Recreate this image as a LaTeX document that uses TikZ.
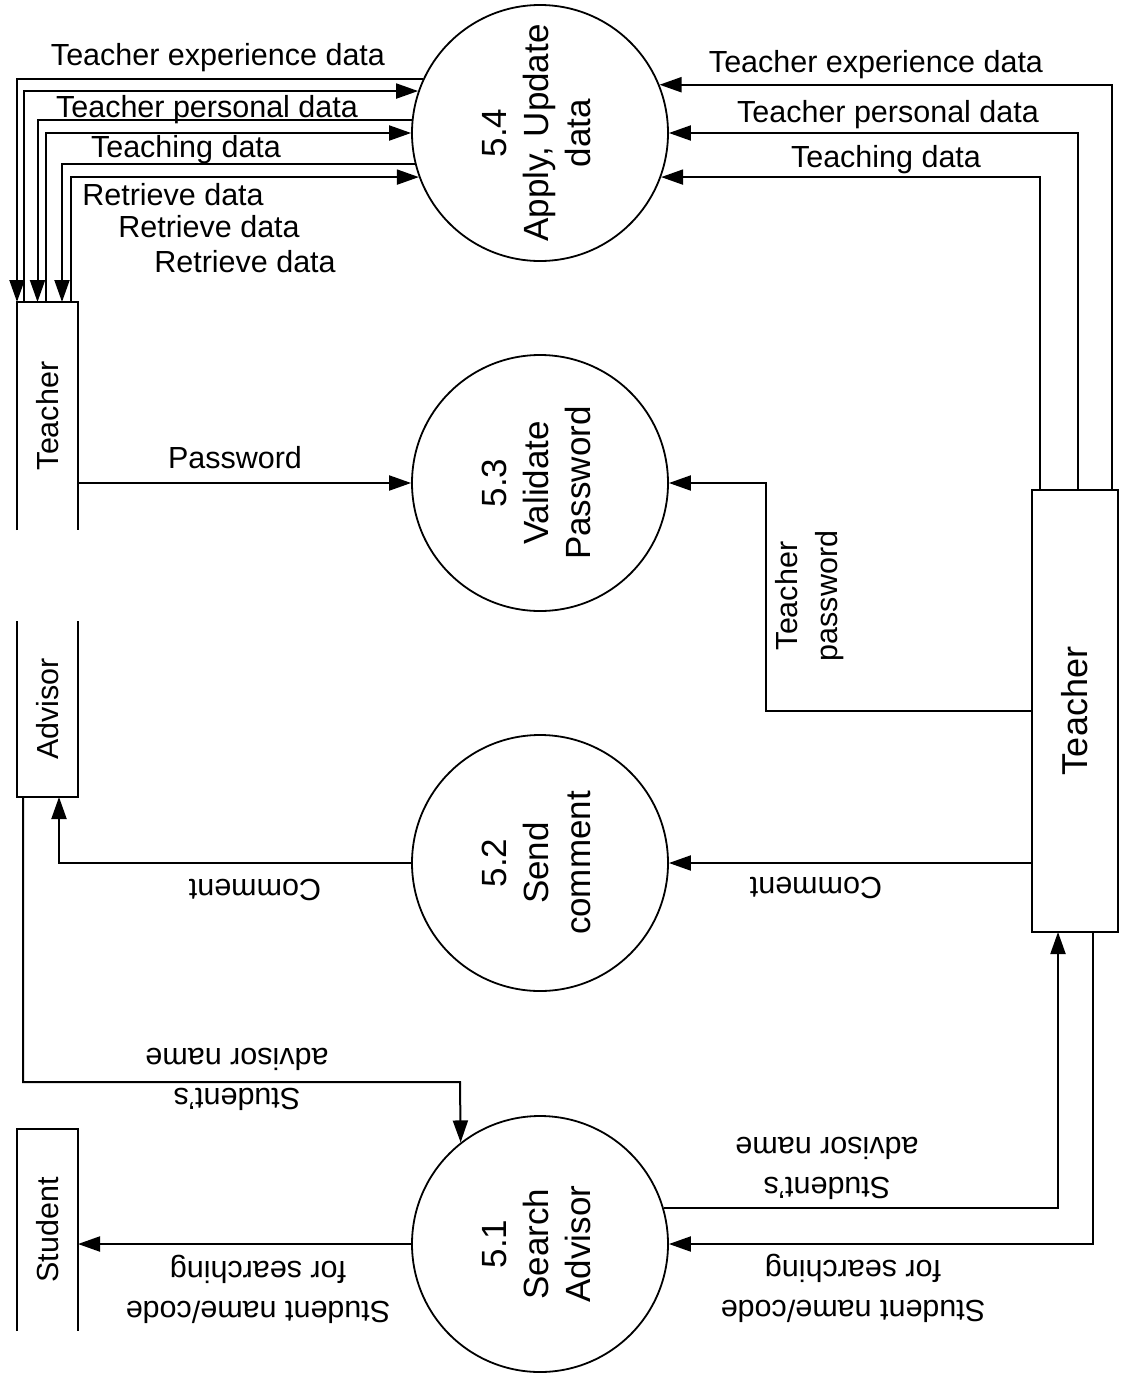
\documentclass[tikz,border=0pt]{standalone}
\usepackage{fontspec}
\setmainfont{Liberation Sans}
\usetikzlibrary{arrows.meta}

% stacked, centred lines turned by #1 degrees
\newcommand{\turnedlines}[2]{\rotatebox{#1}{\begin{tabular}{@{}c@{}}#2\end{tabular}}}

\begin{document}
\begin{tikzpicture}[x=1pt,y=-1pt,
  flow/.style={line width=2pt,line join=miter,-{Triangle[length=22pt,width=15pt]}},
  plain/.style={line width=2pt,line join=miter},
  proc/.style={circle,draw,line width=1.8pt,minimum size=256pt,inner sep=0pt,
    font=\fontsize{35}{42}\selectfont},
  entity/.style={inner sep=0pt,outer sep=0pt,font=\fontsize{30.5}{40}\selectfont},
  lbl/.style={font=\fontsize{30.5}{40}\selectfont,inner sep=0pt,align=center},
]
\useasboundingbox (0,0) rectangle (1121,1376);

% processes
\node[proc] (c54) at (540,133)  {\turnedlines{90}{5.4\\Apply, Update\\data}};
\node[proc] (c53) at (540,483)  {\turnedlines{90}{5.3\\Validate\\Password}};
\node[proc] (c52) at (540,863)  {\turnedlines{90}{5.2\\Send\\comment}};
\node[proc] (c51) at (540,1244) {\turnedlines{90}{5.1\\Search\\Advisor}};

% external entities
\node[entity,minimum width=61pt,minimum height=228pt] (tl)  at (47.5,416)  {\rotatebox{90}{Teacher}};
\node[entity,minimum width=61pt,minimum height=176pt] (adv) at (47.5,709)  {\rotatebox{90}{Advisor}};
\node[entity,minimum width=61pt,minimum height=202pt] (stu) at (47.5,1230) {\rotatebox{90}{Student}};
\node[entity,draw,line width=2pt,minimum width=86pt,minimum height=442pt,
  font=\fontsize{36}{42}\selectfont] (tr) at (1075,711) {\rotatebox{90}{Teacher}};

% open-ended entity outlines
\draw[plain] (tl.south west) -- (tl.north west) -- (tl.north east) -- (tl.south east);
\draw[plain] (adv.north west) -- (adv.south west) -- (adv.south east) -- (adv.north east);
\draw[plain] (stu.south west) -- (stu.north west) -- (stu.north east) -- (stu.south east);

% 5.4 <-> Teacher (left)
\draw[flow] (c54.155.54) -| (tl.north west);
\draw[flow] ([xshift=7pt]tl.north west) |- (c54.161.79);
\draw[flow] (c54.174.62) -| ([xshift=20.5pt]tl.north west);
\draw[flow] ([xshift=29pt]tl.north west) |- (c54.180);
\draw[flow] (c54.194.48) -| ([xshift=45pt]tl.north west);
\draw[flow] ([xshift=54pt]tl.north west) |- (c54.200.11);

% Teacher (right) -> 5.4
\draw[flow] ([xshift=80pt]tr.north west) |- (c54.22.99);
\draw[flow] ([xshift=46pt]tr.north west) |- (c54.0);
\draw[flow] ([xshift=8pt]tr.north west) |- (c54.340.85);

% 5.3
\draw[flow] (tl.east |- c53) -- (c53);
\coordinate (tpb) at (766,483);
\draw[flow] (tr.west) -| (tpb) -- (c53);

% 5.2
\draw[flow] (tr.west |- c52) -- (c52);
\draw[flow] (c52) -| ([xshift=42pt]adv.south west);

% 5.1
\coordinate (sab) at (460,1082);
\draw[flow] ([xshift=6pt]adv.south west) |- (sab) -- (c51.128.68);
\draw[flow] (c51) -- (stu.east |- c51);
\draw[flow] (c51.16.33) -| ([xshift=26pt]tr.south west);
\draw[flow] ([xshift=61pt]tr.south west) |- (c51);

% flow labels
\node[lbl,anchor=base] (lTexL) at (218,65)  {Teacher experience data};
\node[lbl,anchor=base] (lTpdL) at (207,117) {Teacher personal data};
\node[lbl,anchor=base] (lTdL)  at (186,157) {Teaching data};
\node[lbl,anchor=base] (lRd1)  at (173,205) {Retrieve data};
\node[lbl,anchor=base] (lRd2)  at (209,237) {Retrieve data};
\node[lbl,anchor=base] (lRd3)  at (245,272) {Retrieve data};

\node[lbl,anchor=base] (lTexR) at (876,72)  {Teacher experience data};
\node[lbl,anchor=base] (lTpdR) at (888,122) {Teacher personal data};
\node[lbl,anchor=base] (lTdR)  at (886,167) {Teaching data};

\node[lbl,anchor=base] (lPw) at (235,468) {Password};
\node[lbl,rotate=90] (lTpw) at (810,596) {Teacher\\password};

\node[lbl,rotate=180] (lCmL) at (255,890) {Comment};
\node[lbl,rotate=180] (lCmR) at (816,888) {Comment};
\node[lbl,rotate=180] (lSaL) at (237,1079) {Student's\\advisor name};
\node[lbl,rotate=180] (lSaR) at (827,1168) {Student's\\advisor name};
\node[lbl,rotate=180] (lSnL) at (258,1289) {Student name/code\\for searching};
\node[lbl,rotate=180] (lSnR) at (853,1288) {Student name/code\\for searching};
\end{tikzpicture}
\end{document}
